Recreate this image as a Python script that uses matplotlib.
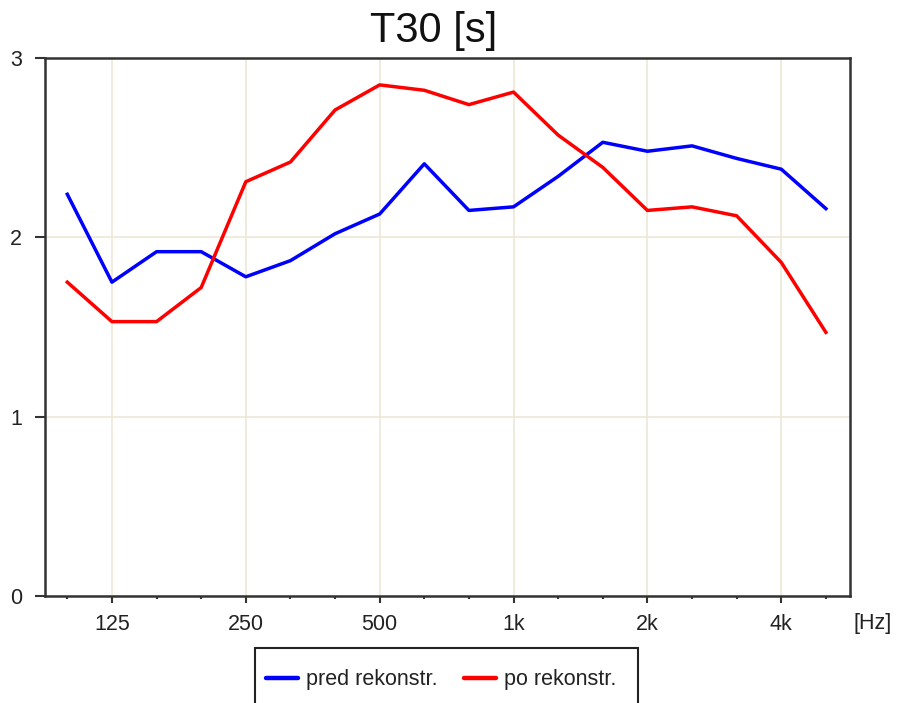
import numpy as np
import matplotlib
matplotlib.use("Agg")
import matplotlib.pyplot as plt
from matplotlib.patches import Rectangle
from matplotlib.lines import Line2D

plt.rcParams['font.family'] = ['Liberation Sans', 'DejaVu Sans']

# third-octave bands 100 Hz .. 5 kHz
bands = ["100", "125", "160", "200", "250", "315", "400", "500", "630", "800",
         "1k", "1.25k", "1.6k", "2k", "2.5k", "3.15k", "4k", "5k"]
t30_pred = [2.24, 1.75, 1.92, 1.92, 1.78, 1.87, 2.02, 2.13, 2.41, 2.15,
            2.17, 2.34, 2.53, 2.48, 2.51, 2.44, 2.38, 2.16]
t30_po = [1.75, 1.53, 1.53, 1.72, 2.31, 2.42, 2.71, 2.85, 2.82, 2.74,
          2.81, 2.57, 2.39, 2.15, 2.17, 2.12, 1.86, 1.47]
octave_labels = ["125", "250", "500", "1k", "2k", "4k"]
series_names = ["pred rekonstr.", "po rekonstr."]

W, H = 899, 703
fig = plt.figure(figsize=(W / 100, H / 100), dpi=100)
ax = fig.add_axes([45 / W, 1 - 596 / H, 805 / W, 538 / H])

x = np.arange(len(bands))
ax.plot(x, t30_pred, color="#0000ff", lw=2.5, solid_joinstyle="round", zorder=3)
ax.plot(x, t30_po, color="#ff0000", lw=2.5, solid_joinstyle="round", zorder=3)

ax.set_xlim(-0.5, 17.54)
ax.set_ylim(0, 3)

major = [i for i, b in enumerate(bands) if b in octave_labels]
minor = [i for i in x if i not in major]
ax.set_xticks(major)
ax.set_xticklabels(octave_labels)
ax.set_xticks(minor, minor=True)
ax.set_yticks([0, 1, 2, 3])
ax.set_yticklabels(["0", "1", "2", "3"])

ax.grid(True, which="major", color="#ece9d8", lw=1.2, zorder=0)
for s in ax.spines.values():
    s.set_color("#333333")
    s.set_linewidth(1.8)

fs = 15.5
ax.tick_params(axis="x", which="major", direction="out", length=5, width=1.5,
               color="#333333", labelsize=fs, pad=8)
ax.tick_params(axis="x", which="minor", direction="out", length=2.5, width=1.5,
               color="#333333")
ax.tick_params(axis="y", direction="out", length=7.5, width=1.5,
               color="#333333", labelsize=fs, pad=9)
for lab in ax.get_xticklabels() + ax.get_yticklabels():
    lab.set_color("#222222")

fig.text(434 / W, 1 - 42 / H, "T30 [s]", fontsize=30, ha="center",
         va="baseline", color="#111111")
fig.text(873 / W, 1 - 624 / H, "[Hz]", fontsize=fs, ha="center",
         va="center", color="#222222")

# legend box, running off the bottom edge
fig.patches.append(Rectangle((255 / W, 1 - 720 / H), 383 / W, 72 / H,
                             transform=fig.transFigure, fill=False,
                             edgecolor="#222222", lw=1.5))
handles = [Line2D([], [], color="#0000ff", lw=3.2, solid_capstyle="round"),
           Line2D([], [], color="#ff0000", lw=3.2, solid_capstyle="round")]
fig.legend(handles, series_names, loc="center left", ncol=2, frameon=False,
           bbox_to_anchor=(255 / W, 1 - 680 / H), fontsize=fs,
           handlelength=1.5, handletextpad=0.38, columnspacing=1.2,
           borderpad=0.0, labelcolor="#222222")

fig.savefig("out.png", dpi=100)
